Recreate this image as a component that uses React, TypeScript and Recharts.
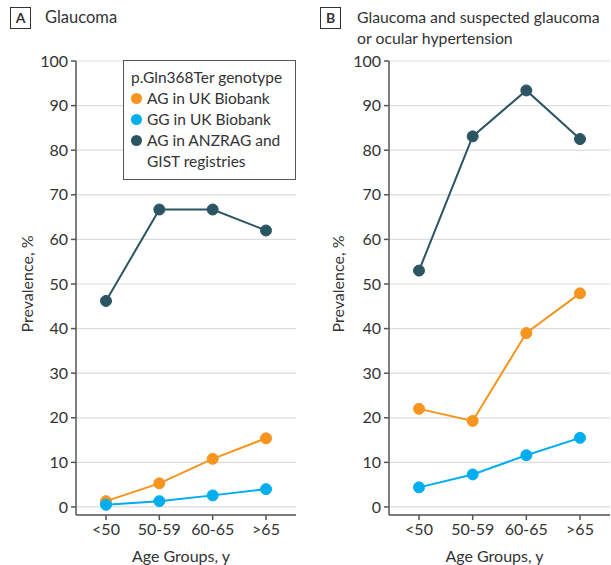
import { LineChart, Line, XAxis, YAxis, CartesianGrid, Legend } from 'recharts';

const ageGroups = ['<50', '50-59', '60-65', '>65'];
const yTicks = [0, 10, 20, 30, 40, 50, 60, 70, 80, 90, 100];

// panel A: glaucoma
const glaucomaAgUk = [1.3, 5.3, 10.8, 15.4];
const glaucomaGgUk = [0.5, 1.3, 2.6, 4.0];
const glaucomaAgReg = [46.2, 66.7, 66.7, 62.0];

// panel B: glaucoma + suspected / OHT
const suspectAgUk = [22.0, 19.3, 39.0, 47.9];
const suspectGgUk = [4.4, 7.3, 11.6, 15.5];
const suspectAgReg = [53.0, 83.1, 93.4, 82.5];

const seriesNames = ['AG in UK Biobank', 'GG in UK Biobank', 'AG in ANZRAG and GIST registries'];
const ORANGE = '#F7941D';
const BLUE = '#00AEEF';
const DARK = '#2C5564';
const colors = [ORANGE, BLUE, DARK];

const FONT = 'Lato, "Noto Sans", sans-serif';
const TEXT = '#333';
const AXIS = '#555';

function buildRows(a: number[], b: number[], c: number[]) {
  return ageGroups.map((g, i) => ({ age: g, agUk: a[i], ggUk: b[i], agReg: c[i] }));
}

const dataA = buildRows(glaucomaAgUk, glaucomaGgUk, glaucomaAgReg);
const dataB = buildRows(suspectAgUk, suspectGgUk, suspectAgReg);

function LegendBox() {
  return (
    <div
      style={{
        border: '1px solid #555',
        background: '#fff',
        width: 173,
        height: 120,
        boxSizing: 'border-box',
        padding: '6px 0 0 7px',
        fontFamily: FONT,
        fontSize: 15.5,
        color: TEXT,
        lineHeight: '21px',
        textAlign: 'left',
      }}
    >
      <div>p.Gln368Ter genotype</div>
      {seriesNames.map((n, i) => (
        <div key={n} style={{ display: 'flex', alignItems: 'flex-start' }}>
          <span
            style={{
              display: 'inline-block',
              width: 11,
              height: 11,
              borderRadius: '50%',
              background: colors[i],
              marginTop: 5,
              marginRight: 5,
              flex: 'none',
            }}
          />
          <span style={{ width: 145 }}>{n}</span>
        </div>
      ))}
    </div>
  );
}

function Panel({
  data,
  width,
  yAxisWidth,
  rightMargin,
  labelDx,
  withLegend,
}: {
  data: any[];
  width: number;
  yAxisWidth: number;
  rightMargin: number;
  labelDx: number;
  withLegend?: boolean;
}) {
  const tick = { fontSize: 16, fill: TEXT, fontFamily: FONT };
  return (
    <LineChart width={width} height={565} data={data} margin={{ top: 61, right: rightMargin, bottom: 0, left: 0 }}>
      <CartesianGrid vertical={false} stroke="#ddd" strokeWidth={1.2} />
      <XAxis
        dataKey="age"
        height={50}
        padding={{ left: 30, right: 30 }}
        tick={tick}
        tickSize={5}
        tickMargin={4}
        stroke={AXIS}
        strokeWidth={1.5}
        tickLine={{ stroke: AXIS }}
        label={{ value: 'Age Groups, y', position: 'insideBottom', offset: 3, dx: -5, fontSize: 16, fill: TEXT, fontFamily: FONT }}
      />
      <YAxis
        width={yAxisWidth}
        domain={[-1.8, 100]}
        ticks={yTicks}
        interval={0}
        allowDataOverflow
        tick={tick}
        tickSize={5}
        tickMargin={3}
        stroke={AXIS}
        strokeWidth={1.5}
        tickLine={{ stroke: AXIS }}
        label={{
          value: 'Prevalence, %',
          angle: -90,
          position: 'center',
          dx: labelDx,
          dy: -4,
          fontSize: 16,
          fill: TEXT,
          fontFamily: FONT,
        }}
      />
      {withLegend && (
        <Legend
          verticalAlign="middle"
          align="center"
          layout="horizontal"
          content={() => <LegendBox />}
          wrapperStyle={{ position: 'absolute', left: 123, top: 60, width: 'auto', height: 'auto' }}
        />
      )}
      {(['agUk', 'ggUk', 'agReg'] as const).map((k, i) => (
        <Line
          key={k}
          dataKey={k}
          name={seriesNames[i]}
          stroke={colors[i]}
          strokeWidth={2}
          dot={{ r: 5.5, fill: colors[i], stroke: colors[i], strokeWidth: 1 }}
          activeDot={false}
          isAnimationActive={false}
        />
      ))}
    </LineChart>
  );
}

function PanelTag({ letter, left }: { letter: string; left: number }) {
  return (
    <div
      style={{
        position: 'absolute',
        left,
        top: 7,
        width: 21,
        height: 22,
        boxSizing: 'border-box',
        border: '1.5px solid #333',
        fontFamily: FONT,
        fontWeight: 700,
        fontSize: 14,
        color: TEXT,
        textAlign: 'center',
        lineHeight: '19px',
      }}
    >
      {letter}
    </div>
  );
}

export default function App() {
  return (
    <div style={{ position: 'absolute', left: 0, top: 0, width: 611, height: 565, background: '#fff', overflow: 'hidden' }}>
      <div style={{ position: 'absolute', left: 0, top: 0 }}>
        <Panel data={dataA} width={305} yAxisWidth={76} rightMargin={9} labelDx={-11} withLegend />
      </div>
      <div style={{ position: 'absolute', left: 305, top: 0 }}>
        <Panel data={dataB} width={306} yAxisWidth={84} rightMargin={1} labelDx={-9} />
      </div>
      <PanelTag letter="A" left={10} />
      <PanelTag letter="B" left={320} />
      <div style={{ position: 'absolute', left: 45, top: 6, fontFamily: FONT, fontSize: 16.5, color: TEXT, lineHeight: '22px' }}>
        Glaucoma
      </div>
      <div style={{ position: 'absolute', left: 357, top: 6, fontFamily: FONT, fontSize: 15.8, color: TEXT, lineHeight: '21px' }}>
        Glaucoma and suspected glaucoma
        <br />
        or ocular hypertension
      </div>
    </div>
  );
}
